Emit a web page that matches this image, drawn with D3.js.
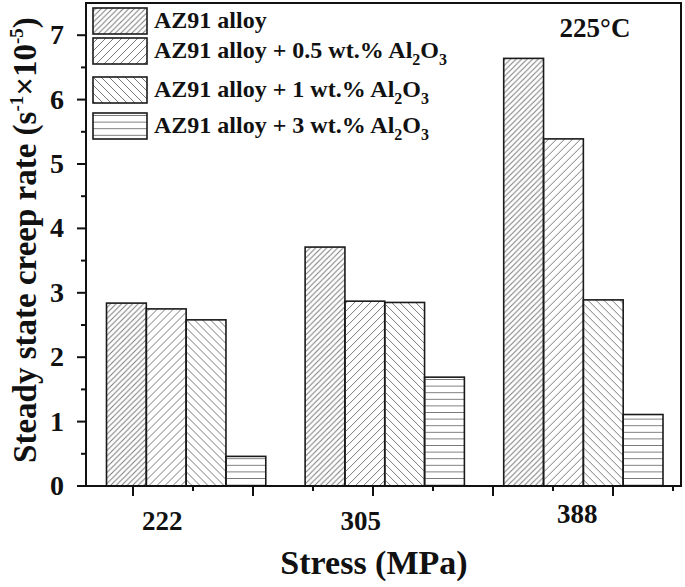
<!DOCTYPE html>
<html>
<head>
<meta charset="utf-8">
<script src="https://cdn.jsdelivr.net/npm/d3@7/dist/d3.min.js"></script>
<style>
  html, body { margin: 0; padding: 0; background: #fff; }
  svg { display: block; font-family: "Liberation Serif", "Times New Roman", serif; font-weight: bold; }
</style>
</head>
<body>
<svg id="chart" width="685" height="587"></svg>
<script>
// ---------- data ----------
const stressLabels = ["222", "305", "388"];
const seriesNames = [
  "AZ91 alloy",
  "AZ91 alloy + 0.5 wt.% Al2O3",
  "AZ91 alloy + 1 wt.% Al2O3",
  "AZ91 alloy + 3 wt.% Al2O3"
];
const az91 = [2.84, 3.71, 6.64];
const az91_05 = [2.75, 2.87, 5.39];
const az91_1 = [2.58, 2.85, 2.89];
const az91_3 = [0.46, 1.69, 1.11];
const yTickValues = [0, 1, 2, 3, 4, 5, 6, 7];
const temperatureLabel = "225°C";

// ---------- layout ----------
const svg = d3.select("#chart");
const frame = { left: 86, right: 681, top: 3, bottom: 486 };
const seriesValues = [az91, az91_05, az91_1, az91_3];

const y = d3.scaleLinear().domain([0, 7.5]).range([frame.bottom, frame.top]);
const xGroup = d3.scaleBand().domain(stressLabels).range([106.5, 663]).paddingInner(0.198).paddingOuter(0);
const xSeries = d3.scaleBand().domain(d3.range(seriesValues.length)).range([0, xGroup.bandwidth()]);
const xTick = d3.scaleLinear().domain([0, 10]).range([73, 673]);

// ---------- patterns ----------
const defs = svg.append("defs");
const hatchColor = "#7a7a7a";
function diagPattern(id, s, dir) {
  const p = defs.append("pattern").attr("id", id).attr("patternUnits", "userSpaceOnUse")
    .attr("width", s).attr("height", s);
  const d = dir > 0
    ? `M0,${s} L${s},0 M-1,1 L1,-1 M${s-1},${s+1} L${s+1},${s-1}`
    : `M0,0 L${s},${s} M-1,${s-1} L1,${s+1} M${s-1},-1 L${s+1},1`;
  p.append("path").attr("d", d).attr("stroke", hatchColor).attr("stroke-width", 1).attr("fill", "none");
}
diagPattern("p0", 5.5, 1);
diagPattern("p1", 8, 1);
diagPattern("p2", 8, -1);
const hp = defs.append("pattern").attr("id", "p3").attr("patternUnits", "userSpaceOnUse")
  .attr("width", 10).attr("height", 6.6);
hp.append("line").attr("x1", 0).attr("x2", 10).attr("y1", 3.3).attr("y2", 3.3)
  .attr("stroke", hatchColor).attr("stroke-width", 1);

// ---------- bars ----------
const groups = svg.append("g").selectAll("g").data(stressLabels).join("g")
  .attr("transform", d => `translate(${xGroup(d)},0)`);
groups.selectAll("rect").data((d, gi) => seriesValues.map((s, si) => ({ si, v: s[gi] })))
  .join("rect")
  .attr("x", d => xSeries(d.si))
  .attr("width", xSeries.bandwidth())
  .attr("y", d => y(d.v))
  .attr("height", d => y(0) - y(d.v))
  .attr("fill", d => `url(#p${d.si})`)
  .attr("stroke", "#1a1a1a").attr("stroke-width", 1.6);

// ---------- frame ----------
svg.append("rect").attr("x", frame.left).attr("y", frame.top)
  .attr("width", frame.right - frame.left).attr("height", frame.bottom - frame.top)
  .attr("fill", "none").attr("stroke", "#111").attr("stroke-width", 2);

// ---------- y axis ----------
const yAxisG = svg.append("g");
yAxisG.selectAll("line.major").data(yTickValues).join("line")
  .attr("x1", frame.left - 9).attr("x2", frame.left)
  .attr("y1", d => y(d)).attr("y2", d => y(d))
  .attr("stroke", "#111").attr("stroke-width", 2);
yAxisG.selectAll("line.minor").data(d3.range(0.5, 7.5, 1)).join("line")
  .attr("x1", frame.left - 5).attr("x2", frame.left)
  .attr("y1", d => y(d)).attr("y2", d => y(d))
  .attr("stroke", "#111").attr("stroke-width", 2);
yAxisG.selectAll("text").data(yTickValues).join("text")
  .attr("x", 64).attr("y", d => y(d) + 9)
  .attr("text-anchor", "end").attr("font-size", 28).attr("fill", "#111")
  .text(d => d);

// y title
const yTitle = svg.append("text")
  .attr("transform", "translate(36,240) rotate(-90)")
  .attr("text-anchor", "middle").attr("font-size", 33).attr("fill", "#111");
yTitle.append("tspan").text("Steady state creep rate (s");
yTitle.append("tspan").attr("font-size", 19).attr("dy", -13).text("-1");
yTitle.append("tspan").attr("dy", 13).text("×10");
yTitle.append("tspan").attr("font-size", 19).attr("dy", -13).text("-5");
yTitle.append("tspan").attr("dy", 13).text(")");

// ---------- x axis ----------
const xAxisG = svg.append("g");
xAxisG.selectAll("line").data(d3.range(1, 11)).join("line")
  .attr("x1", d => xTick(d)).attr("x2", d => xTick(d))
  .attr("y1", frame.bottom).attr("y2", d => frame.bottom + (d % 2 === 1 ? 10 : 5))
  .attr("stroke", "#111").attr("stroke-width", 2);
const labelNudgeX = [-24, -24, -6];
const labelNudgeY = [0, 0, -7];
xAxisG.selectAll("text").data(stressLabels).join("text")
  .attr("x", (d, i) => xGroup(d) + xGroup.bandwidth() / 2 + labelNudgeX[i])
  .attr("y", (d, i) => 530 + labelNudgeY[i])
  .attr("text-anchor", "middle").attr("font-size", 27).attr("fill", "#111")
  .text(d => d);

svg.append("text").attr("x", 374).attr("y", 574)
  .attr("text-anchor", "middle").attr("font-size", 34).attr("fill", "#111")
  .text("Stress (MPa)");

// ---------- legend ----------
const legendTops = [8, 38, 77, 113];
const legend = svg.append("g");
seriesNames.forEach((name, i) => {
  const top = legendTops[i];
  legend.append("rect").attr("x", 93).attr("y", top).attr("width", 54).attr("height", 26)
    .attr("fill", `url(#p${i})`).attr("stroke", "#1a1a1a").attr("stroke-width", 1.6);
  const t = legend.append("text").attr("x", 154).attr("y", top + 20)
    .attr("font-size", 24).attr("fill", "#111");
  const m = name.match(/^(.*)Al2O3$/);
  if (m) {
    t.append("tspan").text(m[1] + "Al");
    t.append("tspan").attr("font-size", 16).attr("dy", 7).text("2");
    t.append("tspan").attr("dy", -7).text("O");
    t.append("tspan").attr("font-size", 16).attr("dy", 7).text("3");
  } else {
    t.text(name);
  }
});

svg.append("text").attr("x", 595).attr("y", 37).attr("text-anchor", "middle")
  .attr("font-size", 27).attr("fill", "#111").text(temperatureLabel);
</script>
</body>
</html>
